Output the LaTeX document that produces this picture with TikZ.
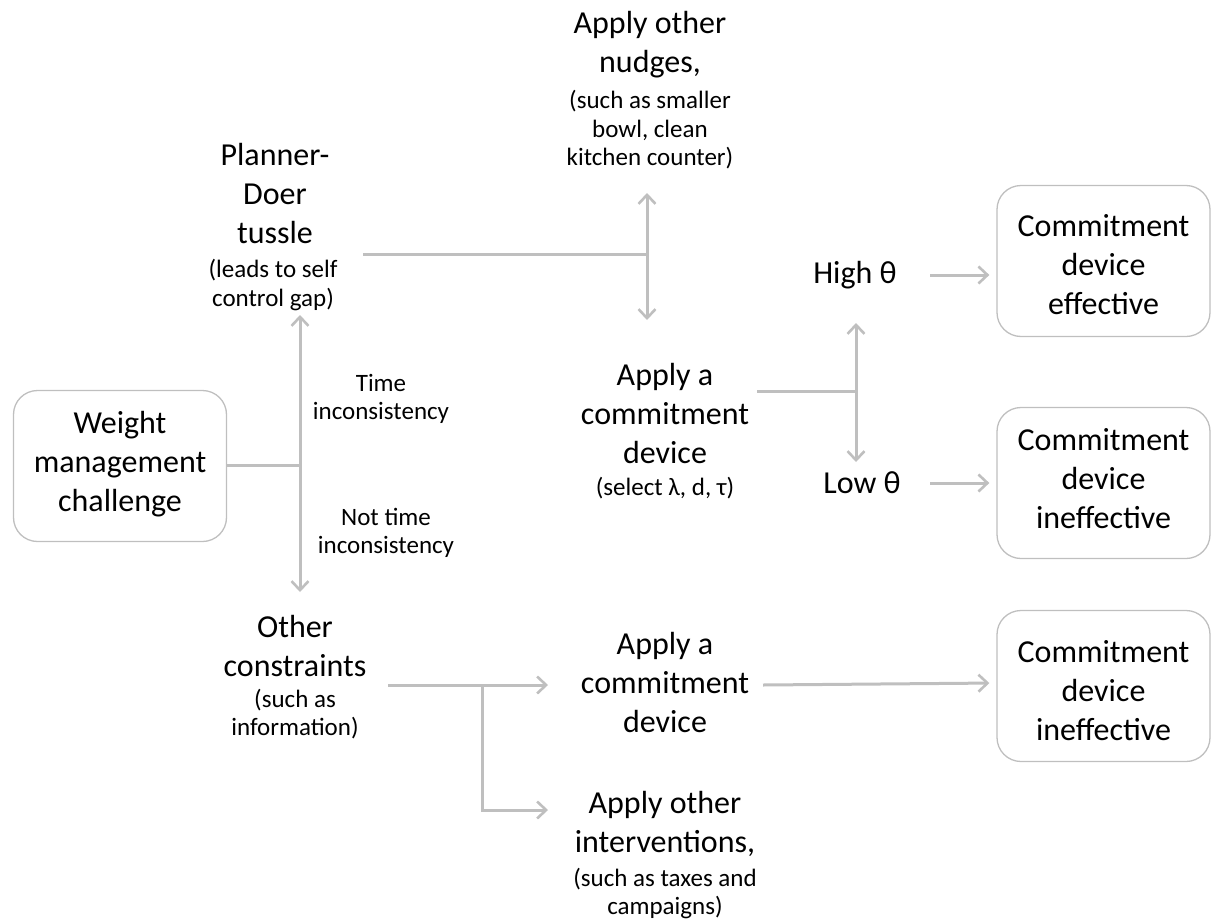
\documentclass[tikz,border=0pt]{standalone}
\usepackage{fontspec}
\setmainfont{Carlito}
\usetikzlibrary{arrows.meta}
\definecolor{linegray}{RGB}{191,191,191}
\definecolor{boxgray}{RGB}{191,191,191}
\begin{document}
\begin{tikzpicture}[x=1pt,y=-1pt,
  big/.style={align=center, font=\fontsize{32}{39}\selectfont, inner sep=0pt},
  small/.style={align=center, font=\fontsize{25}{28.5}\selectfont, inner sep=0pt},
  box/.style={draw=boxgray, line width=1.3pt, rounded corners=24pt, minimum width=213pt, minimum height=151pt, inner sep=0pt},
  conn/.style={draw=linegray, line width=3pt},
  arr/.style={conn, -{Straight Barb[length=9pt,width=17pt,line width=2.6pt]}}]
\useasboundingbox (0,0) rectangle (1213,921);
% boxes
\node[box] (W) at (120,466) {};
\node[big] (Wt) at (120,464) {Weight\\management\\challenge};
\node[box] (E1) at (1103.5,261) {};
\node[big] (E1t) at (1103.5,265) {Commitment\\device\\effective};
\node[box] (E2) at (1103.5,483) {};
\node[big] (E2t) at (1103.5,479) {Commitment\\device\\ineffective};
\node[box] (E3) at (1103.5,686) {};
\node[big] (E3t) at (1103.5,691) {Commitment\\device\\ineffective};
% texts
\node[big] (pd) at (275,194) {Planner-\\Doer\\tussle};
\node[small] (pdsub) at (273,285) {(leads to self\\control gap)};
\node[big] (nudge) at (650,45) {Apply other\\nudges,};
\node[small] (nudgesub) at (650,130) {(such as smaller\\bowl, clean\\kitchen counter)};
\node[big] (cd1) at (665,413) {Apply a\\commitment\\device};
\node[small] (cd1sub) at (665,488) {(select λ, d, τ)};
\node[big] (high) at (855,275) {High θ};
\node[big] (low) at (862,483) {Low θ};
\node[small] (ti) at (381,399) {Time\\inconsistency};
\node[small] (nti) at (386,533) {Not time\\inconsistency};
\node[big] (other) at (295,646) {Other\\constraints};
\node[small] (othersub) at (295,714) {(such as\\information)};
\node[big] (cd2) at (665,682) {Apply a\\commitment\\device};
\node[big] (inter) at (665,824) {Apply other\\interventions,};
\node[small] (intersub) at (665,893.5) {(such as taxes and\\campaigns)};
% junction coordinates
\coordinate (j1) at (300,465);
\coordinate (j1up) at (300,315);
\coordinate (j1dn) at (300,592);
\coordinate (pdout) at (363,254);
\coordinate (j2) at (647,254);
\coordinate (j2up) at (647,193);
\coordinate (j2dn) at (647,320);
\coordinate (cd1out) at (757,391);
\coordinate (j3) at (856,391);
\coordinate (j3up) at (856,323);
\coordinate (j3dn) at (856,462);
\coordinate (highout) at (930,275);
\coordinate (lowout) at (930,483);
\coordinate (otherout) at (388,685);
\coordinate (j4) at (482,685);
\coordinate (j4tip) at (548,685);
\coordinate (j5) at (482,810);
\coordinate (j5tip) at (548,810);
\coordinate (cd2out) at (763,685);
% connectors
\draw[conn] (W.east |- j1) -- (j1);
\draw[arr] (j1) -- (j1up);
\draw[arr] (j1) -- (j1dn);
\draw[conn] (pdout) -- (j2);
\draw[arr] (j2) -- (j2up);
\draw[arr] (j2) -- (j2dn);
\draw[conn] (cd1out) -- (j3);
\draw[arr] (j3) -- (j3up);
\draw[arr] (j3) -- (j3dn);
\draw[arr, shorten >=7pt] (highout) -- (E1.west |- highout);
\draw[arr, shorten >=7pt] (lowout) -- (E2.west |- lowout);
\draw[arr] (otherout) -- (j4tip);
\draw[arr] (j4) -- (j5) -- (j5tip);
\draw[arr, shorten >=7pt] (cd2out) -- ([yshift=3pt]E3.west);
\end{tikzpicture}
\end{document}
